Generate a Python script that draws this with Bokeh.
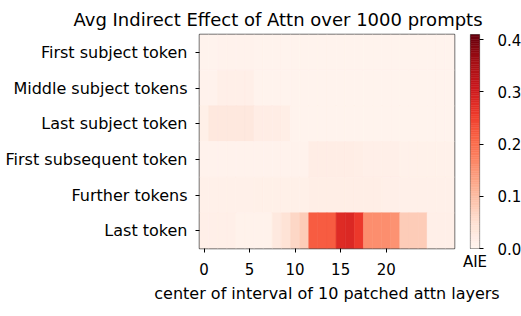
import numpy as np
from bokeh.plotting import figure
from bokeh.layouts import row
from bokeh.models import (LinearColorMapper, FixedTicker, FactorRange, Range1d,
                          ColumnDataSource, Title, PrintfTickFormatter)
from bokeh.palettes import Reds256
from bokeh.embed import file_html
from bokeh.resources import INLINE

# ---------------- data ----------------
rows = ["First subject token", "Middle subject tokens", "Last subject token",
        "First subsequent token", "Further tokens", "Last token"]
centers = list(range(28))

first_subject = [0.006, 0.006, 0.007, 0.007, 0.007, 0.007, 0.006, 0.005, 0.005, 0.005,
                 0.005, 0.005, 0.005, 0.005, 0.005, 0.005, 0.005, 0.005, 0.005, 0.005,
                 0.005, 0.005, 0.005, 0.005, 0.005, 0.005, 0.005, 0.005]
middle_subject = [0.007, 0.007, 0.015, 0.015, 0.015, 0.015, 0.006, 0.005, 0.005, 0.005,
                  0.005, 0.005, 0.005, 0.005, 0.005, 0.005, 0.005, 0.005, 0.005, 0.005,
                  0.005, 0.005, 0.005, 0.005, 0.005, 0.005, 0.005, 0.005]
last_subject = [0.014, 0.032, 0.032, 0.032, 0.032, 0.032, 0.020, 0.020, 0.020, 0.018,
                0.006, 0.006, 0.006, 0.006, 0.006, 0.006, 0.006, 0.006, 0.006, 0.006,
                0.006, 0.006, 0.006, 0.006, 0.006, 0.006, 0.006, 0.006]
first_subsequent = [0.008, 0.008, 0.008, 0.008, 0.008, 0.008, 0.007, 0.007, 0.007, 0.007,
                    0.007, 0.008, 0.020, 0.020, 0.020, 0.020, 0.020, 0.018, 0.016, 0.016,
                    0.016, 0.016, 0.010, 0.010, 0.010, 0.010, 0.010, 0.010]
further = [0.012, 0.012, 0.012, 0.012, 0.012, 0.012, 0.013, 0.013, 0.013, 0.013,
           0.013, 0.013, 0.018, 0.018, 0.018, 0.018, 0.018, 0.018, 0.018, 0.018,
           0.015, 0.015, 0.012, 0.012, 0.012, 0.012, 0.012, 0.012]
last_token = [0.015, 0.015, 0.015, 0.015, 0.009, 0.009, 0.009, 0.009, 0.030, 0.045,
              0.065, 0.080, 0.220, 0.220, 0.220, 0.280, 0.285, 0.260, 0.160, 0.160,
              0.160, 0.155, 0.080, 0.080, 0.080, 0.015, 0.015, 0.015]
series = [first_subject, middle_subject, last_subject, first_subsequent, further, last_token]

x_ticks = [0, 5, 10, 15, 20]
cbar_ticks = [0.0, 0.1, 0.2, 0.3, 0.4]
vmin, vmax = 0.0, 0.41
title_text = "Avg Indirect Effect of Attn over 1000 prompts"

# ---------------- build ----------------
xs, ys, vs = [], [], []
for r, vals in zip(rows, series):
    for c, v in zip(centers, vals):
        xs.append(c); ys.append(r); vs.append(v)
src = ColumnDataSource(dict(x=xs, y=ys, v=vs))

pal = list(Reds256)
def _lum(h):
    return int(h[1:3], 16) + int(h[3:5], 16) + int(h[5:7], 16)
if _lum(pal[0]) < _lum(pal[-1]):
    pal = pal[::-1]
mapper = LinearColorMapper(palette=pal, low=vmin, high=vmax)

FONT = "DejaVu Sans"
TXT = "#000000"
FW, FH = 255, 214
LEFT, TOP, BOT = 199, 34, 68
CBW = 67   # width of the colour-bar strip on the right
TOTAL_W = LEFT + FW + CBW

# ---------------- heatmap ----------------
p = figure(frame_width=FW, frame_height=FH, output_backend="svg", toolbar_location=None,
           title=None,
           x_range=Range1d(-0.5, 27.5), y_range=FactorRange(*rows[::-1]),
           min_border_left=LEFT, min_border_right=CBW, min_border_top=TOP,
           min_border_bottom=BOT)
p.rect(x="x", y="y", width=1, height=1, source=src,
       fill_color={"field": "v", "transform": mapper},
       line_color={"field": "v", "transform": mapper}, line_width=0.6)

p.grid.visible = False
p.outline_line_color = "#4d4d4d"
p.outline_line_width = 1.5
p.background_fill_color = "white"
p.border_fill_color = "white"

for ax in (p.xaxis[0], p.yaxis[0]):
    ax.axis_line_color = None
    ax.major_tick_line_color = "black"
    ax.major_tick_out = 4
    ax.major_tick_in = 0
    ax.minor_tick_line_color = None
    ax.major_label_text_font = FONT
    ax.major_label_text_color = TXT

p.xaxis.ticker = FixedTicker(ticks=x_ticks)
p.xaxis.major_label_text_font_size = "15px"
p.xaxis.major_label_standoff = 10
p.xaxis.axis_label = "center of interval of 10 patched attn layers"
p.xaxis.axis_label_text_font = FONT
p.xaxis.axis_label_text_font_size = "16px"
p.xaxis.axis_label_text_font_style = "normal"
p.xaxis.axis_label_text_color = TXT
p.xaxis.axis_label_standoff = 6
p.yaxis.major_label_text_font_size = "16px"
p.yaxis.major_label_standoff = 8

# ---------------- colour bar (narrow transparent figure over the right strip) ----------------
edges = np.linspace(vmin, vmax, 121)
cb_src = ColumnDataSource(dict(bottom=edges[:-1], top=edges[1:],
                               mid=(edges[:-1] + edges[1:]) / 2))
CB_L, CB_W = 16, 9
p2 = figure(frame_width=CB_W, frame_height=FH, output_backend="svg", toolbar_location=None,
            title=None,
            x_range=Range1d(0, 1), y_range=Range1d(vmin, vmax),
            min_border_left=CB_L, min_border_right=CBW - CB_L - CB_W, min_border_top=TOP,
            min_border_bottom=BOT, y_axis_location="right",
            margin=(0, 0, 0, -CBW))
p2.quad(left=0, right=1, bottom="bottom", top="top", source=cb_src,
        fill_color={"field": "mid", "transform": mapper},
        line_color={"field": "mid", "transform": mapper}, line_width=0.5)
p2.grid.visible = False
p2.outline_line_color = "#666666"
p2.outline_line_width = 1.2
p2.border_fill_alpha = 0
p2.background_fill_alpha = 0

ya = p2.yaxis[0]
ya.ticker = FixedTicker(ticks=cbar_ticks)
ya.formatter = PrintfTickFormatter(format="%.1f")
ya.axis_line_color = None
ya.major_tick_line_color = "black"
ya.major_tick_out = 4
ya.major_tick_in = 0
ya.minor_tick_line_color = None
ya.major_label_text_font = FONT
ya.major_label_text_font_size = "15px"
ya.major_label_text_color = TXT
ya.major_label_standoff = 14

xa = p2.xaxis[0]
xa.ticker = FixedTicker(ticks=[])
xa.axis_line_color = None
xa.major_tick_line_color = None
xa.minor_tick_line_color = None
xa.axis_label = "AIE"
xa.axis_label_text_font = FONT
xa.axis_label_text_font_size = "15px"
xa.axis_label_text_font_style = "normal"
xa.axis_label_text_color = TXT
xa.axis_label_standoff = 4

# ---------------- title (transparent overlay figure spanning the full width) ----------------
p3 = figure(frame_width=FW, frame_height=10, output_backend="svg", toolbar_location=None,
            min_border_left=LEFT, min_border_right=CBW, min_border_top=28,
            min_border_bottom=0, x_axis_location=None, y_axis_location=None,
            margin=(0, 0, 0, -TOTAL_W))
p3.title = Title(text=title_text, align="left",
                 offset=70 - LEFT, text_font=FONT, text_font_size="18px",
                 text_font_style="normal", text_color=TXT, standoff=10)
p3.grid.visible = False
p3.outline_line_color = None
p3.border_fill_alpha = 0
p3.background_fill_alpha = 0

lay = row(p, p2, p3, spacing=0)
open("out.html", "w").write(file_html(lay, INLINE))
